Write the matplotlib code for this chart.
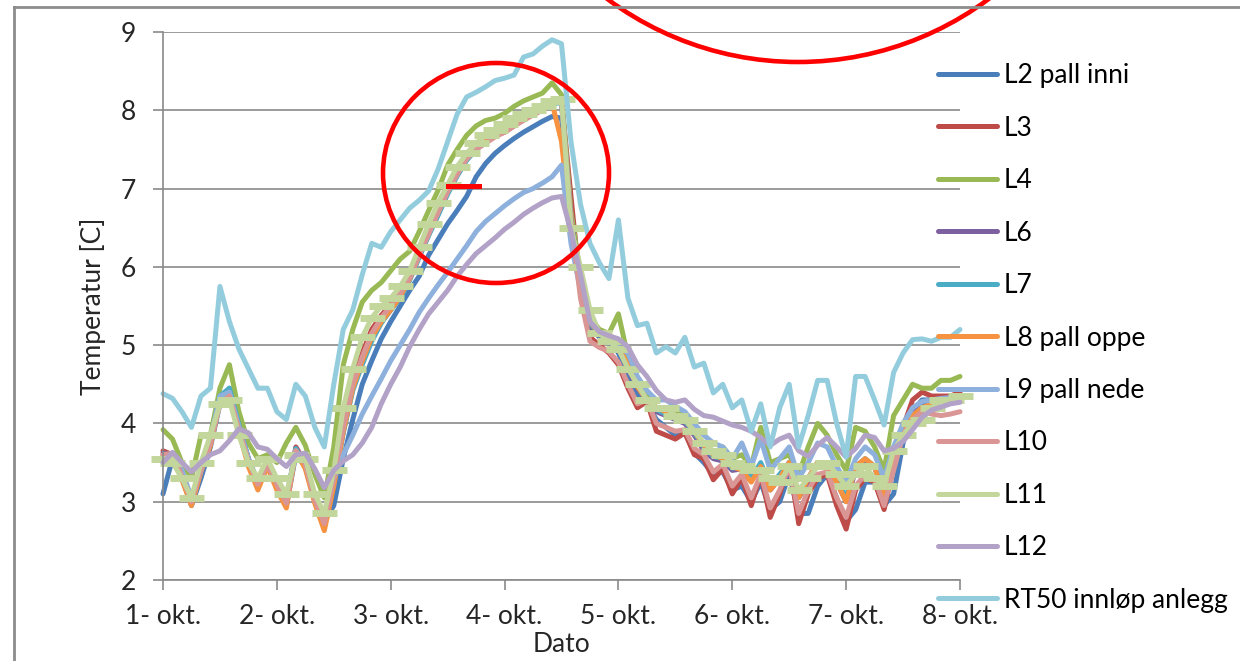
import numpy as np
import matplotlib
matplotlib.use("Agg")
import matplotlib.pyplot as plt
from matplotlib.lines import Line2D
from matplotlib.patches import Ellipse

plt.rcParams['font.family'] = ['Lato', 'DejaVu Sans']

W, H = 1240, 661
GRID = "#8a8a8a"
TXT = "#262626"
FS = 19

# 2-hour readings, 1-okt 00:00 .. 8-okt 00:00
hours = np.arange(0, 169, 2)
day_ticks = np.arange(0, 169, 24)
day_labels = ["1- okt.", "2- okt.", "3- okt.", "4- okt.", "5- okt.", "6- okt.", "7- okt.", "8- okt."]

l2 = [3.1, 3.55, 3.3, 2.95, 3.3, 3.7, 4.25, 4.45, 3.95, 3.55, 3.22, 3.45,
      3.2, 2.95, 3.6, 3.45, 3.02, 2.75, 2.95, 3.55, 4.05, 4.5, 4.8, 5.08,
      5.3, 5.5, 5.7, 5.88, 6.15, 6.35, 6.55, 6.72, 6.9, 7.15, 7.32, 7.45,
      7.55, 7.64, 7.72, 7.79, 7.86, 7.92, 7.9, 6.7, 5.75, 5.25, 5.1, 5.05,
      4.9, 4.6, 4.35, 4.25, 4.05, 3.95, 3.85, 3.9, 3.62, 3.5, 3.35, 3.38,
      3.15, 3.2, 3.0, 3.25, 2.9, 3.0, 3.35, 2.85, 2.85, 3.2, 3.35, 3.05,
      2.75, 2.9, 3.25, 3.25, 2.95, 3.1, 3.75, 4.15, 4.3, 4.3, 4.3, 4.32, 4.35]
l3 = [3.65, 3.6, 3.3, 2.98, 3.45, 3.8, 4.3, 4.35, 3.9, 3.5, 3.2, 3.5,
      3.2, 2.95, 3.7, 3.5, 3.0, 2.68, 3.3, 4.0, 4.55, 4.9, 5.2, 5.38,
      5.52, 5.68, 5.88, 6.18, 6.45, 6.72, 6.98, 7.2, 7.4, 7.52, 7.6, 7.68,
      7.72, 7.8, 7.88, 7.95, 8.02, 8.1, 8.12, 6.9, 5.7, 5.1, 5.0, 4.9,
      4.75, 4.45, 4.2, 4.28, 3.9, 3.85, 3.8, 3.88, 3.6, 3.55, 3.28, 3.42,
      3.1, 3.3, 2.95, 3.35, 2.8, 3.1, 3.5, 2.72, 3.1, 3.3, 3.35, 2.95,
      2.65, 3.15, 3.3, 3.25, 2.9, 3.45, 3.95, 4.3, 4.4, 4.35, 4.35, 4.35, 4.4]
l4 = [3.92, 3.8, 3.5, 3.3, 3.85, 3.85, 4.45, 4.75, 4.15, 3.75, 3.55, 3.6,
      3.5, 3.75, 3.95, 3.72, 3.35, 3.05, 3.7, 4.75, 5.2, 5.55, 5.7, 5.8,
      5.95, 6.1, 6.2, 6.45, 6.72, 6.98, 7.3, 7.5, 7.68, 7.8, 7.87, 7.9,
      7.96, 8.05, 8.12, 8.17, 8.22, 8.35, 8.2, 6.7, 5.9, 5.35, 5.2, 5.15,
      5.4, 4.85, 4.55, 4.35, 4.2, 4.2, 4.15, 4.1, 3.85, 3.75, 3.6, 3.7,
      3.55, 3.6, 3.45, 3.95, 3.5, 3.55, 3.6, 3.35, 3.7, 4.0, 3.85, 3.6,
      3.4, 3.95, 3.9, 3.7, 3.4, 4.1, 4.3, 4.5, 4.45, 4.45, 4.55, 4.55, 4.6]
l6 = [3.62, 3.6, 3.32, 3.0, 3.42, 3.75, 4.3, 4.38, 3.95, 3.55, 3.22, 3.5,
      3.22, 3.0, 3.68, 3.47, 3.02, 2.72, 3.25, 3.9, 4.45, 4.78, 5.08, 5.3,
      5.45, 5.62, 5.85, 6.15, 6.42, 6.68, 6.95, 7.18, 7.38, 7.5, 7.6, 7.68,
      7.75, 7.82, 7.9, 7.97, 8.03, 8.1, 8.12, 6.6, 5.8, 5.25, 5.12, 5.08,
      4.95, 4.7, 4.45, 4.3, 4.15, 4.1, 4.05, 4.0, 3.85, 3.65, 3.55, 3.52,
      3.4, 3.42, 3.3, 3.45, 3.15, 3.3, 3.5, 3.05, 3.25, 3.5, 3.45, 3.25,
      3.0, 3.4, 3.5, 3.45, 3.05, 3.55, 3.95, 4.15, 4.25, 4.25, 4.28, 4.3, 4.3]
l7 = [3.58, 3.62, 3.35, 3.02, 3.4, 3.78, 4.35, 4.45, 3.98, 3.55, 3.25, 3.5,
      3.25, 3.0, 3.68, 3.48, 3.05, 2.75, 3.22, 3.88, 4.42, 4.75, 5.05, 5.28,
      5.45, 5.6, 5.83, 6.12, 6.4, 6.66, 6.93, 7.16, 7.36, 7.5, 7.6, 7.67,
      7.74, 7.81, 7.89, 7.96, 8.02, 8.08, 8.1, 6.55, 5.8, 5.28, 5.13, 5.1,
      4.97, 4.73, 4.47, 4.3, 4.18, 4.12, 4.08, 4.03, 3.88, 3.7, 3.58, 3.55,
      3.43, 3.45, 3.3, 3.5, 3.2, 3.35, 3.5, 3.1, 3.3, 3.5, 3.45, 3.3,
      3.05, 3.45, 3.55, 3.45, 3.1, 3.6, 3.95, 4.1, 4.2, 4.25, 4.3, 4.3, 4.32]
l8 = [3.6, 3.58, 3.28, 2.95, 3.38, 3.72, 4.28, 4.38, 3.9, 3.45, 3.15, 3.45,
      3.15, 2.92, 3.65, 3.42, 2.98, 2.63, 3.2, 3.9, 4.45, 4.8, 5.1, 5.3,
      5.45, 5.62, 5.85, 6.15, 6.45, 6.7, 6.97, 7.2, 7.4, 7.55, 7.62, 7.7,
      7.75, 7.82, 7.9, 7.98, 8.05, 8.1, 7.6, 6.5, 5.8, 5.3, 5.15, 5.1,
      4.98, 4.75, 4.47, 4.3, 4.2, 4.15, 4.1, 4.05, 3.9, 3.72, 3.6, 3.55,
      3.45, 3.4, 3.25, 3.45, 3.15, 3.3, 3.5, 3.05, 3.3, 3.5, 3.45, 3.25,
      3.0, 3.45, 3.55, 3.45, 3.05, 3.6, 3.95, 4.1, 4.2, 4.25, 4.3, 4.3, 4.32]
l9 = [3.55, 3.6, 3.4, 3.05, 3.4, 3.8, 4.35, 4.4, 3.95, 3.55, 3.25, 3.5,
      3.25, 3.05, 3.65, 3.5, 3.05, 2.8, 3.3, 3.6, 3.85, 4.12, 4.35, 4.57,
      4.8, 5.0, 5.2, 5.42, 5.6, 5.77, 5.93, 6.1, 6.27, 6.45, 6.58, 6.68,
      6.78, 6.87, 6.95, 7.0, 7.07, 7.15, 7.3, 6.3, 5.7, 5.35, 5.15, 5.1,
      4.98, 4.9, 4.6, 4.42, 4.3, 4.3, 4.22, 4.15, 4.0, 3.85, 3.75, 3.7,
      3.55, 3.75, 3.45, 3.8, 3.4, 3.55, 3.7, 3.3, 3.5, 3.75, 3.7, 3.45,
      3.25, 3.55, 3.7, 3.6, 3.3, 3.7, 4.0, 4.2, 4.28, 4.3, 4.32, 4.33, 4.35]
l10 = [3.6, 3.62, 3.32, 3.0, 3.42, 3.75, 4.25, 4.35, 3.92, 3.52, 3.22, 3.48,
       3.22, 2.98, 3.65, 3.48, 3.02, 2.72, 3.3, 3.95, 4.5, 4.85, 5.15, 5.35,
       5.5, 5.66, 5.86, 6.15, 6.42, 6.7, 6.96, 7.18, 7.38, 7.5, 7.58, 7.66,
       7.72, 7.8, 7.87, 7.94, 8.0, 8.08, 8.12, 6.6, 5.6, 5.05, 4.97, 4.92,
       4.78, 4.5, 4.25, 4.3, 4.0, 3.95, 3.9, 3.92, 3.68, 3.6, 3.38, 3.48,
       3.2, 3.35, 3.05, 3.35, 2.92, 3.15, 3.45, 2.85, 3.15, 3.35, 3.38, 3.05,
       2.8, 3.2, 3.35, 3.3, 2.95, 3.4, 3.85, 4.05, 4.15, 4.12, 4.1, 4.12, 4.15]
l11 = [3.55, 3.5, 3.3, 3.05, 3.5, 3.85, 4.25, 4.3, 3.85, 3.5, 3.3, 3.55,
       3.3, 3.1, 3.6, 3.55, 3.1, 2.85, 3.4, 4.2, 4.7, 5.1, 5.35, 5.5,
       5.6, 5.75, 5.95, 6.25, 6.55, 6.82, 7.05, 7.28, 7.45, 7.58, 7.68, 7.75,
       7.82, 7.9, 7.95, 8.0, 8.05, 8.12, 8.15, 6.5, 6.0, 5.45, 5.15, 5.05,
       4.95, 4.7, 4.5, 4.3, 4.2, 4.2, 4.1, 4.05, 3.9, 3.75, 3.65, 3.6,
       3.5, 3.45, 3.4, 3.4, 3.3, 3.25, 3.45, 3.15, 3.3, 3.45, 3.5, 3.35,
       3.2, 3.35, 3.45, 3.3, 3.2, 3.65, 3.85, 4.0, 4.05, 4.2, 4.3, 4.3, 4.35]
l12 = [3.5, 3.63, 3.5, 3.38, 3.5, 3.6, 3.65, 3.78, 3.93, 3.88, 3.7, 3.67,
       3.55, 3.45, 3.6, 3.62, 3.42, 3.18, 3.4, 3.52, 3.6, 3.75, 3.95, 4.25,
       4.5, 4.72, 4.98, 5.2, 5.4, 5.55, 5.7, 5.88, 6.03, 6.17, 6.27, 6.37,
       6.48, 6.57, 6.67, 6.75, 6.82, 6.88, 6.9, 6.45, 5.9, 5.3, 5.17, 5.12,
       5.08, 4.98, 4.75, 4.6, 4.42, 4.3, 4.27, 4.3, 4.18, 4.1, 4.08, 4.03,
       3.98, 3.95, 3.9, 3.82, 3.72, 3.8, 3.85, 3.65, 3.58, 3.72, 3.82, 3.7,
       3.57, 3.68, 3.85, 3.82, 3.65, 3.68, 3.77, 3.92, 4.08, 4.17, 4.21, 4.25, 4.27]
rt50 = [4.38, 4.32, 4.15, 3.95, 4.35, 4.45, 5.75, 5.3, 4.95, 4.7, 4.45, 4.45,
        4.15, 4.05, 4.5, 4.35, 3.95, 3.7, 4.5, 5.2, 5.45, 5.9, 6.3, 6.25,
        6.45, 6.6, 6.75, 6.85, 6.97, 7.25, 7.6, 7.95, 8.17, 8.23, 8.3, 8.38,
        8.41, 8.45, 8.68, 8.72, 8.82, 8.9, 8.85, 7.6, 6.8, 6.3, 6.05, 5.85,
        6.6, 5.6, 5.25, 5.28, 4.9, 4.98, 4.9, 5.1, 4.72, 4.77, 4.39, 4.5,
        4.2, 4.3, 3.9, 4.25, 3.7, 4.2, 4.5, 3.7, 4.1, 4.55, 4.55, 4.0,
        3.57, 4.6, 4.6, 4.3, 3.98, 4.65, 4.9, 5.07, 5.08, 5.05, 5.1, 5.1, 5.2]

names = ["L2 pall inni", "L3", "L4", "L6", "L7", "L8 pall oppe",
         "L9 pall nede", "L10", "L11", "L12", "RT50 innløp anlegg"]
values = [l2, l3, l4, l6, l7, l8, l9, l10, l11, l12, rt50]
colors = ["#4a7ebb", "#be4b48", "#98b954", "#7d60a0", "#4bacc6", "#f69240",
          "#8eb0dc", "#da9694", "#c3d69b", "#b3a2c7", "#93cddd"]

fig = plt.figure(figsize=(W / 100, H / 100), dpi=100)
ax = fig.add_axes([163 / W, 1 - 580 / H, (960 - 163) / W, (580 - 32) / H])

for name, vals, col in zip(names, values, colors):
    kw = dict(marker="_", ms=18, mew=5) if name == "L11" else {}
    ax.plot(hours, vals, color=col, lw=3.6, label=name, clip_on=False,
            solid_joinstyle="round", solid_capstyle="round", **kw)

ax.set_xlim(0, 168)
ax.set_ylim(2, 9)
ax.set_xticks(day_ticks, day_labels)
ax.set_yticks(range(2, 10))
ax.grid(axis="y", color=GRID, lw=1.2)
ax.set_axisbelow(True)
for s in ["top", "right"]:
    ax.spines[s].set_visible(False)
for s in ["left", "bottom"]:
    ax.spines[s].set_color(GRID)
    ax.spines[s].set_linewidth(1.2)
ax.tick_params(length=7.5, width=1.2, color=GRID, labelsize=FS, labelcolor=TXT)
ax.tick_params(axis="y", pad=12)
ax.tick_params(axis="x", pad=10)

ax.set_ylabel("Temperatur [C]", fontsize=FS, color=TXT, va="center")
ax.yaxis.set_label_coords((93 - 163) / (960 - 163), 0.5)
ax.set_xlabel("Dato", fontsize=FS, color=TXT, va="center")
ax.xaxis.set_label_coords(0.5, -(645 - 580) / (580 - 32))

leg = fig.legend(loc="center left", bbox_to_anchor=(938 / W, 1 - 338 / H),
                 frameon=False, fontsize=FS, handlelength=2.25, handletextpad=0.25,
                 labelspacing=1.04, borderpad=0, borderaxespad=0)
for h in leg.legend_handles:
    h.set_marker("")

# chart-area border (cropped screenshot)
fig.add_artist(Line2D([14 / W, 14 / W], [0, 1 - 7 / H], color="#8c8c8c", lw=2))
fig.add_artist(Line2D([14 / W, 1], [1 - 7 / H, 1 - 7 / H], color="#8c8c8c", lw=2))

# red hand-drawn markings
fig.add_artist(Ellipse((496 / W, 1 - 173 / H), 226 / W, 220 / H, fill=False,
                       ec="#ff0000", lw=3.3, clip_on=False))
fig.add_artist(Ellipse((798 / W, 1 + 258 / H), 640 / W, 640 / H, fill=False,
                       ec="#ff0000", lw=3.3, clip_on=False))
fig.add_artist(Line2D([448 / W, 479 / W], [1 - 186 / H, 1 - 186 / H],
                      color="#ff0000", lw=3.6))

fig.savefig("out.png", dpi=100)
